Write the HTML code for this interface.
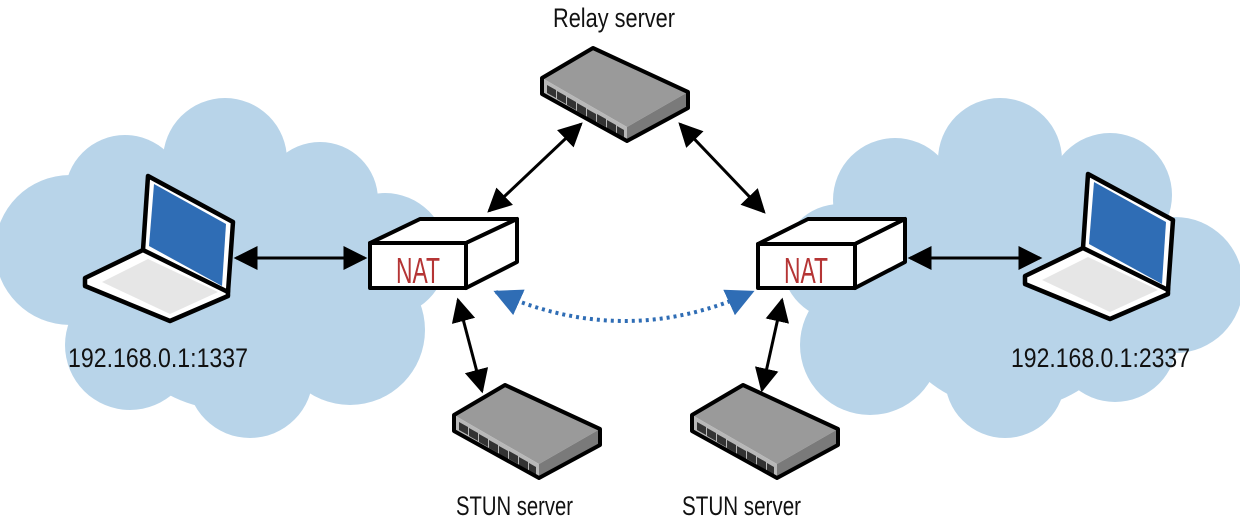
<!DOCTYPE html>
<html><head><meta charset="utf-8"><style>
html,body{margin:0;padding:0;background:#fff;width:1240px;height:526px;overflow:hidden}
svg{display:block}
text{font-family:"Liberation Sans",sans-serif}
</style></head><body>
<svg width="1240" height="526" viewBox="0 0 1240 526" xmlns="http://www.w3.org/2000/svg">
<defs>
<marker id="ah" viewBox="0 0 10 10" refX="9" refY="5" markerWidth="8" markerHeight="8" markerUnits="strokeWidth" orient="auto-start-reverse">
<path d="M0,0 L10,5 L0,10 z" fill="#000"/></marker>
<marker id="bh" viewBox="0 0 10 10" refX="9" refY="5" markerWidth="7" markerHeight="7" markerUnits="strokeWidth" orient="auto-start-reverse">
<path d="M0,0 L10,5 L0,10 z" fill="#2f6db5"/></marker>
<g id="srv">
<polygon points="0,0 95,44 34,79 -51,30" fill="#9a9a9a"/>
<polygon points="-51,30 34,79 34,93 -51,46" fill="#b8b8b8"/>
<polygon points="34,79 95,44 95,60 34,93" fill="#7a7a7a"/>
<g fill="#333">
<polygon points="-46,37 -37,42 -37,50 -46,45"/><polygon points="-36,43 -27,48 -27,56 -36,51"/>
<polygon points="-26,49 -17,54 -17,62 -26,57"/><polygon points="-16,55 -7,60 -7,68 -16,63"/>
<polygon points="-6,61 3,66 3,74 -6,69"/><polygon points="4,66 13,71 13,79 4,74"/>
<polygon points="14,72 23,77 23,85 14,80"/><polygon points="24,78 31,82 31,90 24,86"/>
</g>
<polygon points="0,0 95,44 95,60 34,93 -51,46 -51,30" fill="none" stroke="#000" stroke-width="4" stroke-linejoin="round"/>
</g>
<g id="lap">
<polygon points="143,250 85,278 85,286 170,321 228,296 228,288" fill="#fff" stroke="#000" stroke-width="4.5" stroke-linejoin="round"/>
<polygon points="102,282 148,259 218,292 170,314" fill="#e6e6e6"/>
<polygon points="148,176 233,222 228,292 143,250" fill="#fff" stroke="#000" stroke-width="4.5" stroke-linejoin="round"/>
<polygon points="154,184 226,224 222,286 149,246" fill="#2f6db5"/>
</g>
</defs>
<g fill="#b8d4e9">
<circle cx="70" cy="250" r="75"/><circle cx="125" cy="195" r="60"/><circle cx="225" cy="160" r="62"/>
<circle cx="320" cy="200" r="58"/><circle cx="385" cy="255" r="62"/><circle cx="350" cy="330" r="75"/>
<circle cx="250" cy="375" r="63"/><circle cx="130" cy="345" r="65"/><circle cx="230" cy="280" r="130"/>
<circle cx="1000" cy="160" r="62"/><circle cx="895" cy="200" r="62"/><circle cx="840" cy="262" r="58"/>
<circle cx="870" cy="345" r="70"/><circle cx="1005" cy="378" r="60"/><circle cx="1115" cy="340" r="62"/>
<circle cx="1175" cy="285" r="68"/><circle cx="1110" cy="195" r="62"/><circle cx="1010" cy="280" r="130"/>
</g>
<use href="#lap"/>
<use href="#lap" transform="translate(940,-2)"/>
<use href="#srv" transform="translate(593,48)"/>
<use href="#srv" transform="translate(505,385)"/>
<use href="#srv" transform="translate(743,385)"/>
<g stroke="#000" stroke-width="4" stroke-linejoin="round" fill="#fff">
<polygon points="370,243 420,219 517,219 466,243"/>
<polygon points="466,243 517,219 517,262 466,288"/>
<rect x="370" y="243" width="96" height="45"/>
<polygon points="758,244 808,219 905,219 855,244"/>
<polygon points="855,244 905,219 905,262 855,288"/>
<rect x="758" y="244" width="97" height="44"/>
</g>
<text x="418" y="283" font-size="36" fill="#b53535" text-anchor="middle" textLength="44" lengthAdjust="spacingAndGlyphs">NAT</text>
<text x="806" y="283" font-size="36" fill="#b53535" text-anchor="middle" textLength="44" lengthAdjust="spacingAndGlyphs">NAT</text>
<g stroke="#000" stroke-width="3" fill="none" marker-start="url(#ah)" marker-end="url(#ah)">
<line x1="236" y1="258" x2="365" y2="258"/>
<line x1="910" y1="258" x2="1040" y2="258"/>
<line x1="489" y1="211" x2="581" y2="124"/>
<line x1="680" y1="124" x2="764" y2="212"/>
<line x1="458" y1="300" x2="482" y2="391"/>
<line x1="782" y1="300" x2="762" y2="390"/>
</g>
<path d="M496,292 Q625,350 752,292" fill="none" stroke="#2f6db5" stroke-width="4" stroke-dasharray="3,4" marker-start="url(#bh)" marker-end="url(#bh)"/>
<g font-size="27" fill="#111">
<text x="553" y="27" textLength="122" lengthAdjust="spacingAndGlyphs">Relay server</text>
<text x="68" y="367" textLength="180" lengthAdjust="spacingAndGlyphs">192.168.0.1:1337</text>
<text x="1011" y="367" textLength="179" lengthAdjust="spacingAndGlyphs">192.168.0.1:2337</text>
<text x="456" y="515" textLength="117" lengthAdjust="spacingAndGlyphs">STUN server</text>
<text x="682" y="515" textLength="119" lengthAdjust="spacingAndGlyphs">STUN server</text>
</g>
</svg>
</body></html>
